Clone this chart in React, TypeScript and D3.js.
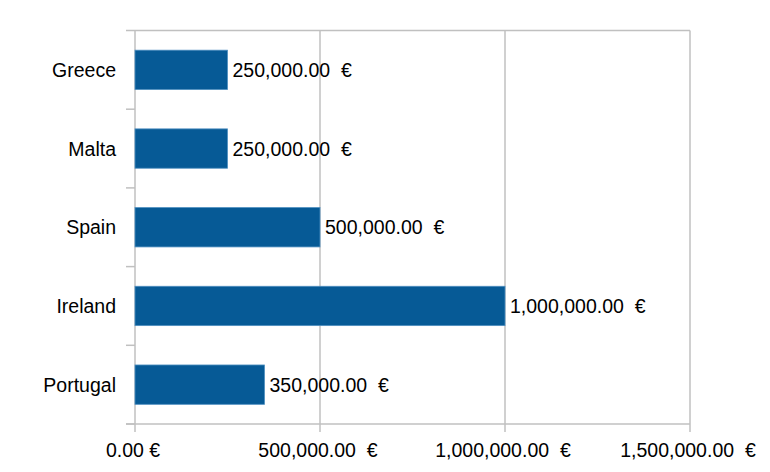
import React from "react";
import * as d3 from "d3";

const categories = ["Greece", "Malta", "Spain", "Ireland", "Portugal"];
const values = [250000, 250000, 500000, 1000000, 350000];
const xTicks = [0, 500000, 1000000, 1500000];

const W = 770, H = 472;
const M = { left: 135, right: 80, top: 30.5, bottom: 48 };

const fmtNum = d3.format(",.2f");
const fmt = (v: number) => (v === 0 ? "0.00 €" : `${fmtNum(v)}\u00a0\u00a0€`);

export default function App() {
  const x = d3.scaleLinear().domain([0, 1500000]).range([M.left, W - M.right]);
  const y = d3.scaleBand().domain(categories).range([M.top, H - M.bottom]).paddingInner(0.5).paddingOuter(0.25);
  const yb = d3.scaleBand().domain(categories).range([M.top, H - M.bottom]);
  const bottom = H - M.bottom;
  const grid = "#c0c0c0";
  const font = "'Liberation Sans', Arial, sans-serif";
  const fs = 19.5;
  return (
    <svg width={W} height={H} style={{ position: "absolute", left: 0, top: 0, background: "#fff" }} fontFamily={font}>
      {xTicks.map((t) => (
        <line key={"g" + t} x1={x(t)} x2={x(t)} y1={M.top} y2={bottom + 8} stroke={grid} strokeWidth={1.5} />
      ))}
      <line x1={M.left - 9} x2={x(1500000)} y1={M.top} y2={M.top} stroke={grid} strokeWidth={1.5} />
      <line x1={M.left - 9} x2={x(1500000)} y1={bottom} y2={bottom} stroke={grid} strokeWidth={1.5} />
      {categories.map((c) => (
        <line key={"t" + c} x1={M.left - 9} x2={M.left} y1={(yb(c) as number) + yb.bandwidth()} y2={(yb(c) as number) + yb.bandwidth()} stroke={grid} strokeWidth={1.5} />
      ))}
      {categories.map((c, i) => (
        <rect key={"b" + c} x={x(0)} y={y(c)} width={x(values[i]) - x(0)} height={y.bandwidth()} fill="#065a96" stroke="#4f8fc0" strokeWidth={0.8} />
      ))}
      {categories.map((c, i) => (
        <text key={"v" + c} x={x(values[i]) + 5} y={(y(c) as number) + y.bandwidth() / 2} dy="0.36em" fontSize={fs} fill="#000">
          {fmt(values[i])}
        </text>
      ))}
      {categories.map((c) => (
        <text key={"c" + c} x={M.left - 19} y={(y(c) as number) + y.bandwidth() / 2} dy="0.36em" fontSize={fs} textAnchor="end" fill="#000">
          {c}
        </text>
      ))}
      {xTicks.map((t) => (
        <text key={"x" + t} x={x(t) - 2} y={bottom + 33} fontSize={fs} textAnchor="middle" fill="#000">
          {fmt(t)}
        </text>
      ))}
    </svg>
  );
}
